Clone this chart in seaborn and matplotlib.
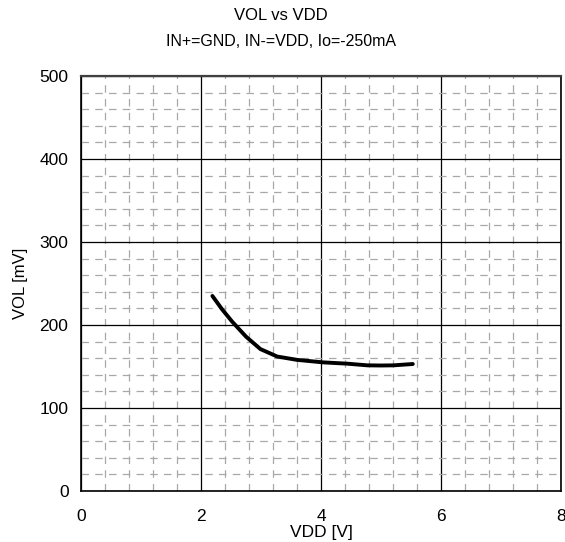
import matplotlib
matplotlib.use("Agg")
import matplotlib.pyplot as plt
import seaborn as sns
import pandas as pd
from matplotlib.ticker import MultipleLocator

vdd = [2.19, 2.35, 2.52, 2.75, 2.99, 3.27, 3.6, 4.03, 4.44, 4.77, 5.0, 5.21, 5.53]
vol = [235, 219, 204, 186, 171, 162, 158, 155, 153.4, 151.4, 151.2, 151.4, 153]

sns.set_theme(style="white")
plt.rcParams['font.family'] = ['Liberation Sans', 'DejaVu Sans']
plt.rcParams['text.color'] = 'black'

df = pd.DataFrame({"VDD": vdd, "VOL": vol})

fig = plt.figure(figsize=(5.65, 5.42), dpi=100)
ax = fig.add_axes([81/565, 1-491/542, (561-81)/565, (491-76)/542])

sns.lineplot(data=df, x="VDD", y="VOL", ax=ax, color="black", linewidth=2.8, zorder=5)

ax.set_xlim(0, 8)
ax.set_ylim(0, 500)
ax.xaxis.set_major_locator(MultipleLocator(2))
ax.yaxis.set_major_locator(MultipleLocator(100))
ax.xaxis.set_minor_locator(MultipleLocator(0.4))
ax.yaxis.set_minor_locator(MultipleLocator(20))
ax.grid(which="major", color="black", linewidth=0.9, linestyle="-")
ax.grid(which="minor", color="#a8a8a8", linewidth=0.9, linestyle=(0, (6, 5)))
ax.set_axisbelow(True)
ax.tick_params(which="both", length=0, labelsize=12.5, colors="black")
ax.tick_params(axis="x", pad=13)
ax.tick_params(axis="y", pad=9)

for s in ax.spines.values():
    s.set_color("black")
    s.set_linewidth(1.2)
ax.spines["top"].set_color("#404040")
ax.spines["top"].set_linewidth(1.6)

ax.set_xlabel("VDD [V]", fontsize=12.5, color="black")
ax.set_ylabel("VOL [mV]", fontsize=12, color="black")
ax.xaxis.set_label_coords(0.5, (491-533)/415)
ax.yaxis.set_label_coords((20-81)/480, 0.5)
ax.xaxis.label.set_va("center")
ax.yaxis.label.set_va("center")

fig.text(281/565, 1-16/542, "VOL vs VDD", ha="center", va="center", fontsize=12, color="black")
fig.text(281/565, 1-41/542, "IN+=GND, IN-=VDD, Io=-250mA", ha="center", va="center", fontsize=11.5, color="black")

fig.savefig("out.png", dpi=100)
